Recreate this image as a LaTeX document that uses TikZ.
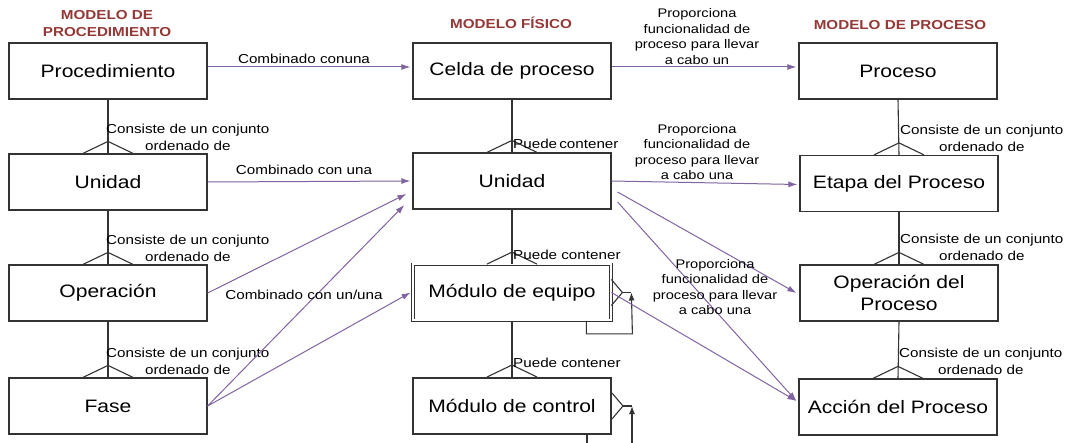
\documentclass[tikz,border=0pt]{standalone}
\usepackage{fontspec}
\setmainfont{Liberation Sans}[FakeStretch=1.17]
\usetikzlibrary{arrows.meta}
\definecolor{hdrred}{HTML}{953735}
\definecolor{linkpurple}{HTML}{8064A2}
\definecolor{boxgray}{HTML}{333333}
\tikzset{
  box/.style={draw=boxgray, line width=1.2pt, minimum width=198pt, minimum height=56pt,
    inner sep=0pt, align=center, font=\fontsize{18}{22}\selectfont},
  hdr/.style={text=hdrred, font=\bfseries\fontsize{13}{17}\selectfont, align=center},
  lbl/.style={font=\fontsize{13}{17}\selectfont, align=center, inner sep=0pt},
  prop/.style={font=\fontsize{12.5}{15.5}\selectfont, align=center, inner sep=0pt},
  link/.style={draw=linkpurple, line width=1pt, -{Latex[length=9pt,width=6pt]}},
  tie/.style={draw=boxgray, line width=1.1pt},
}
\newcommand\crowfoot[1]{%
  \draw[tie] ([xshift=-25pt]#1.north) -- ([yshift=12pt]#1.north) -- ([xshift=25pt]#1.north);}
\begin{document}
\begin{tikzpicture}[x=1pt,y=-1pt]
\useasboundingbox (0,0) rectangle (1076,443);

% headers
\node[hdr] (hproc) at (107,24) {MODELO DE\\PROCEDIMIENTO};
\node[hdr] (hfis) at (511,23) {MODELO FÍSICO};
\node[hdr] (hpro) at (900,25) {MODELO DE PROCESO};

% procedure model
\node[box] (proc) at (108,71) {Procedimiento};
\node[box] (uniP) at (108,182) {Unidad};
\node[box] (oper) at (108,293) {Operación};
\node[box] (fase) at (108,406) {Fase};

% physical model
\node[box] (celda) at (512,71) {Celda de proceso};
\node[box] (uniF) at (512,181) {Unidad};
\node[box, double, line width=0.8pt, double distance=2pt] (equipo) at (512,292.5) {Módulo de equipo};
\node[box, line width=2pt] (control) at (512,406) {Módulo de control};

% process model
\node[box] (proceso) at (898,71) {Proceso};
\node[box] (etapa) at (899,183.5) {Etapa del Proceso};
\node[box] (operP) at (899,293) {Operación del\\Proceso};
\node[box] (accion) at (898,407) {Acción del Proceso};

% consists of
\draw[tie] (proc.south) -- (uniP.north);
\draw[tie] (uniP.south) -- (oper.north);
\draw[tie] (oper.south) -- (fase.north);
\crowfoot{uniP}
\crowfoot{oper}
\crowfoot{fase}
\node[lbl, anchor=west] (c1) at ([xshift=-2pt,yshift=16.5pt]uniP.north) {Consiste de un conjunto\\ordenado de};
\node[lbl, anchor=west] (c2) at ([xshift=-2pt,yshift=16.5pt]oper.north) {Consiste de un conjunto\\ordenado de};
\node[lbl, anchor=west] (c3) at ([xshift=-2pt,yshift=16.5pt]fase.north) {Consiste de un conjunto\\ordenado de};

\draw[tie] (proceso.south) -- (etapa.north);
\draw[tie] (etapa.south) -- (operP.north);
\draw[tie] (operP.south) -- (accion.north);
\crowfoot{etapa}
\crowfoot{operP}
\crowfoot{accion}
\node[lbl, anchor=west] (c4) at ([xshift=1pt,yshift=17pt]etapa.north) {Consiste de un conjunto\\ordenado de};
\node[lbl, anchor=west] (c5) at ([xshift=1pt,yshift=17pt]operP.north) {Consiste de un conjunto\\ordenado de};
\node[lbl, anchor=west] (c6) at ([xshift=1pt,yshift=17pt]accion.north) {Consiste de un conjunto\\ordenado de};

% may contain
\draw[tie] (celda.south) -- (uniF.north);
\draw[tie] (uniF.south) -- (equipo.north);
\draw[tie] (equipo.south) -- (control.north);
\crowfoot{uniF}
\crowfoot{equipo}
\crowfoot{control}
\node[lbl, anchor=west] (p1) at ([xshift=1pt,yshift=9pt]uniF.north) {Puede\,contener};
\node[lbl, anchor=west] (p2) at ([xshift=1pt,yshift=9pt]equipo.north) {Puede contener};
\node[lbl, anchor=west] (p3) at ([xshift=1pt,yshift=14pt]control.north) {Puede contener};

% self loops
\draw[tie] ([yshift=13pt]equipo.east) -- ([xshift=11pt]equipo.east) -- ([yshift=-13pt]equipo.east);
\draw[tie] ([xshift=11pt]equipo.east) -- ([xshift=20pt]equipo.east);
\draw[tie, -{Latex[length=8pt,width=6pt]}] ([xshift=-25pt]equipo.south east) -- ++(0,13) -- ++(46,0) -- ([xshift=20pt]equipo.east);
\draw[tie] ([yshift=13pt]control.east) -- ([xshift=11pt]control.east) -- ([yshift=-13pt]control.east);
\draw[tie] ([xshift=11pt]control.east) -- ([xshift=20pt]control.east);
\draw[tie, -{Latex[length=8pt,width=6pt]}] ([xshift=20pt]control.east |- 0,445) -- ([xshift=20pt]control.east);
\draw[tie] ([xshift=-25pt]control.south east) -- ++(0,12);

% combined with
\draw[link] ([yshift=4pt]proc.east) -- ([xshift=-2pt,yshift=4pt]celda.west);
\draw[link] (uniP.east) -- ([xshift=-2pt]uniF.west);
\draw[link] (oper.east) -- ([xshift=-6pt,yshift=-13pt]uniF.west);
\draw[link] (fase.east) -- ([xshift=-8pt,yshift=-24pt]uniF.west);
\draw[link] (fase.east) -- ([xshift=-2pt]equipo.west);
\node[lbl] (k1) at (304,59) {Combinado conuna};
\node[lbl] (k2) at (304,170) {Combinado con una};
\node[lbl] (k3) at (304,295) {Combinado con un/una};

% provides functionality
\draw[link] ([yshift=4pt]celda.east) -- ([xshift=-2pt,yshift=4pt]proceso.west);
\draw[link] (uniF.east) -- ([xshift=-2pt,yshift=-1pt]etapa.west);
\draw[link] ([xshift=6pt,yshift=-11pt]uniF.east) -- ([xshift=-3pt]operP.west);
\draw[link] ([xshift=6pt,yshift=-21pt]uniF.east) -- ([xshift=-2pt,yshift=6pt]accion.west);
\draw[link] (equipo.east) -- ([xshift=-2pt,yshift=6pt]accion.west);
\node[prop] (f1) at (697,36.5) {Proporciona\\funcionalidad de\\proceso para llevar\\a cabo un};
\node[prop] (f2) at (697,152) {Proporciona\\funcionalidad de\\proceso para llevar\\a cabo una};
\node[prop] (f3) at (715,287) {Proporciona\\funcionalidad de\\proceso para llevar\\a cabo una};
\end{tikzpicture}
\end{document}
